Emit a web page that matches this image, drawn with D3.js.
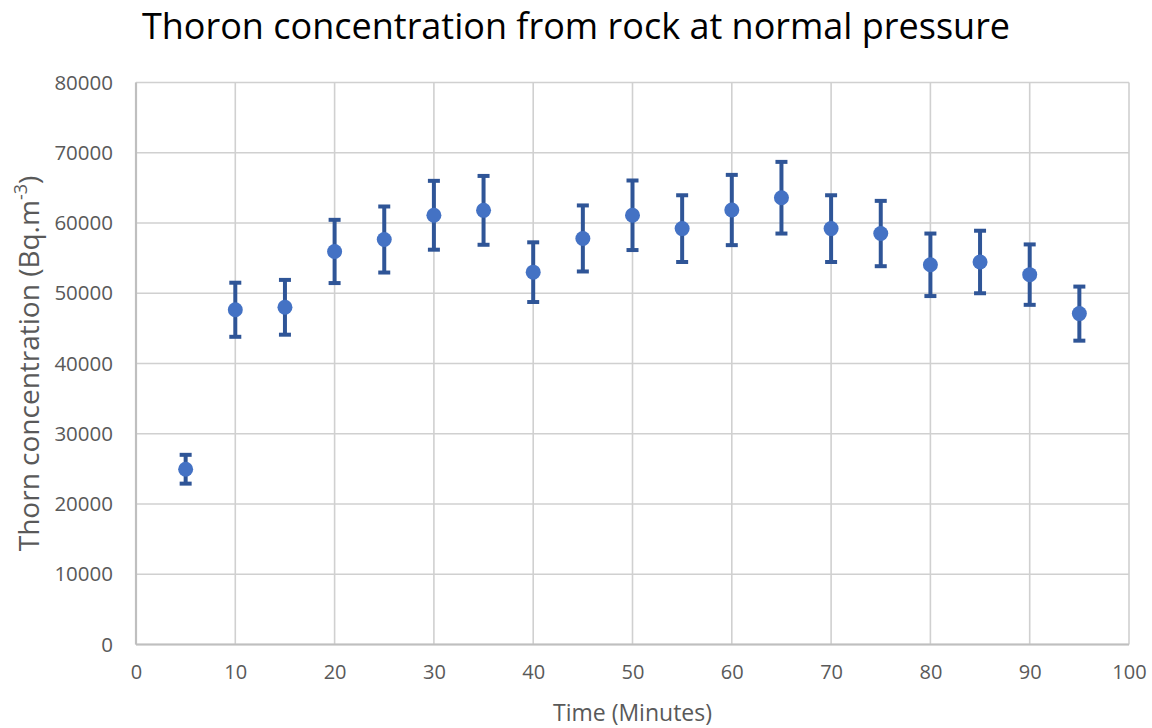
<!DOCTYPE html>
<html><head><meta charset="utf-8">
<script src="https://cdn.jsdelivr.net/npm/d3@7"></script>
<style>body{margin:0;background:#fff}</style>
</head><body>
<svg id="c" width="1152" height="728"></svg>
<script>
const time = [5,10,15,20,25,30,35,40,45,50,55,60,65,70,75,80,85,90,95];
const conc = [24950,47650,48000,55950,57650,61100,61800,53000,57800,61100,59200,61850,63600,59200,58500,54050,54450,52650,47100];
const errs = [2050,3850,3900,4500,4700,4900,4900,4250,4700,4950,4750,5000,5100,4750,4650,4450,4450,4300,3850];
const xTicks = [0,10,20,30,40,50,60,70,80,90,100];
const yTicks = [0,10000,20000,30000,40000,50000,60000,70000,80000];

const svg = d3.select("#c");
const L=136, R=1129, T=82.5, B=644.5;
const x = d3.scaleLinear().domain([0,100]).range([L,R]);
const y = d3.scaleLinear().domain([0,80000]).range([B,T]);
const font = "'Open Sans', 'Liberation Sans', sans-serif";

// grid
svg.append("g").selectAll("line.v").data(xTicks).join("line")
  .attr("x1",d=>x(d)).attr("x2",d=>x(d)).attr("y1",T).attr("y2",B)
  .attr("stroke","#d0d0d0").attr("stroke-width",1.6);
svg.append("g").selectAll("line.h").data(yTicks).join("line")
  .attr("x1",L).attr("x2",R).attr("y1",d=>y(d)).attr("y2",d=>y(d))
  .attr("stroke","#d0d0d0").attr("stroke-width",1.6);
// axis lines
svg.append("line").attr("x1",L).attr("x2",L).attr("y1",T).attr("y2",B).attr("stroke","#bfbfbf").attr("stroke-width",2.2);
svg.append("line").attr("x1",L).attr("x2",R).attr("y1",B).attr("y2",B).attr("stroke","#bfbfbf").attr("stroke-width",2.2);

// axes (labels only)
const yAxis = svg.append("g").attr("transform",`translate(${L},0)`)
  .call(d3.axisLeft(y).tickValues(yTicks).tickSize(0).tickPadding(23).tickFormat(d3.format("d")));
yAxis.select(".domain").remove();
yAxis.selectAll("text").attr("font-family",font).attr("font-size",20.5).attr("fill","#595959");
const xAxis = svg.append("g").attr("transform",`translate(0,${B})`)
  .call(d3.axisBottom(x).tickValues(xTicks).tickSize(0).tickPadding(20).tickFormat(d3.format("d")));
xAxis.select(".domain").remove();
xAxis.selectAll("text").attr("font-family",font).attr("font-size",20).attr("fill","#595959");

// error bars
const eb = svg.append("g").attr("stroke","#2F5597").attr("stroke-width",4);
const data = time.map((t,i)=>({t, v:conc[i], e:errs[i]}));
eb.selectAll("line.bar").data(data).join("line")
  .attr("x1",d=>x(d.t)).attr("x2",d=>x(d.t)).attr("y1",d=>y(d.v+d.e)).attr("y2",d=>y(d.v-d.e));
eb.selectAll("line.capu").data(data).join("line").attr("class","capu")
  .attr("x1",d=>x(d.t)-6).attr("x2",d=>x(d.t)+6).attr("y1",d=>y(d.v+d.e)).attr("y2",d=>y(d.v+d.e));
eb.selectAll("line.capd").data(data).join("line").attr("class","capd")
  .attr("x1",d=>x(d.t)-6).attr("x2",d=>x(d.t)+6).attr("y1",d=>y(d.v-d.e)).attr("y2",d=>y(d.v-d.e));

// points
svg.append("g").selectAll("circle").data(data).join("circle")
  .attr("cx",d=>x(d.t)).attr("cy",d=>y(d.v)).attr("r",7.5).attr("fill","#4472C4");

// titles
svg.append("text").attr("x",576).attr("y",39).attr("text-anchor","middle")
  .attr("font-family",font).attr("font-size",36).attr("fill","#000")
  .text("Thoron concentration from rock at normal pressure");
svg.append("text").attr("x",(L+R)/2).attr("y",721).attr("text-anchor","middle")
  .attr("font-family",font).attr("font-size",23).attr("fill","#595959")
  .text("Time (Minutes)");
const yt = svg.append("text").attr("transform",`translate(39,${(T+B)/2}) rotate(-90)`)
  .attr("text-anchor","middle").attr("font-family",font).attr("font-size",28).attr("fill","#595959");
yt.append("tspan").text("Thorn concentration (Bq.m");
yt.append("tspan").attr("font-size",18).attr("dy",-12).text("-3");
yt.append("tspan").attr("dy",12).text(")");
</script>
</body></html>
